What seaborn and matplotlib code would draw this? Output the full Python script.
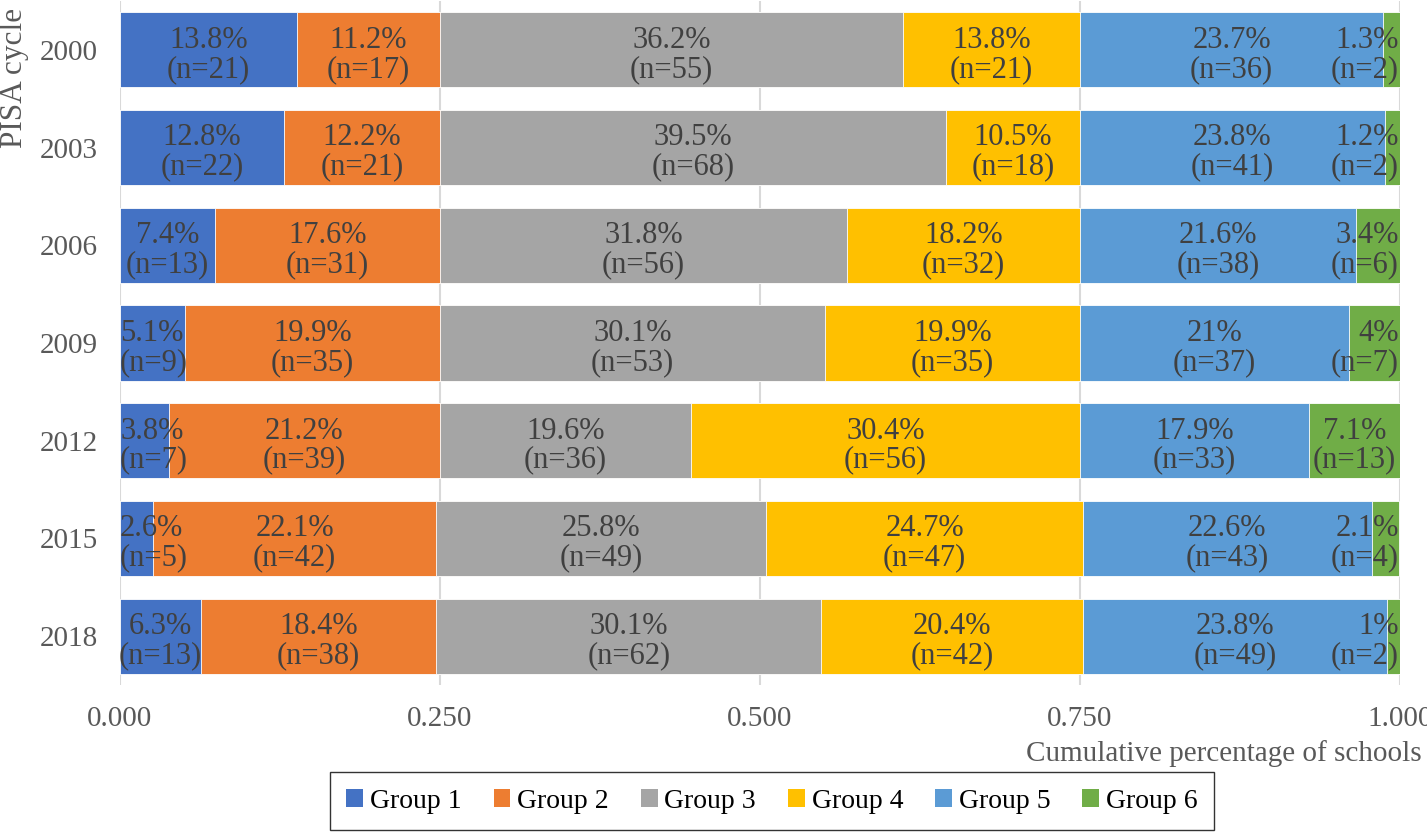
import pandas as pd
import numpy as np
import matplotlib.pyplot as plt
import seaborn as sns
from matplotlib.patches import Patch

# --- datos ---
ciclos = ['2000', '2003', '2006', '2009', '2012', '2015', '2018']
grupos = ['Group 1', 'Group 2', 'Group 3', 'Group 4', 'Group 5', 'Group 6']
colores = ['#4472C4', '#ED7D31', '#A5A5A5', '#FFC000', '#5B9BD5', '#70AD47']

pct_g1 = [13.8, 12.8, 7.4, 5.1, 3.8, 2.6, 6.3]
pct_g2 = [11.2, 12.2, 17.6, 19.9, 21.2, 22.1, 18.4]
pct_g3 = [36.2, 39.5, 31.8, 30.1, 19.6, 25.8, 30.1]
pct_g4 = [13.8, 10.5, 18.2, 19.9, 30.4, 24.7, 20.4]
pct_g5 = [23.7, 23.8, 21.6, 21.0, 17.9, 22.6, 23.8]
pct_g6 = [1.3, 1.2, 3.4, 4.0, 7.1, 2.1, 1.0]

n_g1 = [21, 22, 13, 9, 7, 5, 13]
n_g2 = [17, 21, 31, 35, 39, 42, 38]
n_g3 = [55, 68, 56, 53, 36, 49, 62]
n_g4 = [21, 18, 32, 35, 56, 47, 42]
n_g5 = [36, 41, 38, 37, 33, 43, 49]
n_g6 = [2, 2, 6, 7, 13, 4, 2]

pcts = [pct_g1, pct_g2, pct_g3, pct_g4, pct_g5, pct_g6]
ns = [n_g1, n_g2, n_g3, n_g4, n_g5, n_g6]

filas = []
for g, p_list, n_list in zip(grupos, pcts, ns):
    for c, p, n in zip(ciclos, p_list, n_list):
        filas.append({'ciclo': c, 'grupo': g, 'pct': p, 'n': n})
df = pd.DataFrame(filas)
df['grupo'] = pd.Categorical(df['grupo'], categories=grupos, ordered=True)
df = df.sort_values(['ciclo', 'grupo'])
df['frac'] = df['pct'] / 100
df['fin'] = df.groupby('ciclo')['frac'].cumsum()
df['inicio'] = df['fin'] - df['frac']

# --- gráfico ---
sns.set_theme(style='white')
plt.rcParams['font.family'] = ['Liberation Serif', 'DejaVu Serif']
gris = '#595959'

fig = plt.figure(figsize=(14.27, 8.32), dpi=100)
ax = fig.add_axes([120 / 1427, 1 - 685 / 832, 1280 / 1427, 684 / 832])

# barras apiladas: se dibuja el acumulado de mayor a menor
for g, col in reversed(list(zip(grupos, colores))):
    sub = df[df['grupo'] == g]
    sns.barplot(data=sub, x='fin', y='ciclo', order=ciclos, orient='h',
                color=col, saturation=1, width=0.77, ax=ax,
                edgecolor='white', linewidth=0.6, zorder=3)

# etiquetas (las de segmentos angostos se pegan al borde del área)
pos = {c: i for i, c in enumerate(ciclos)}
for _, r in df.iterrows():
    txt = f"{r['pct']:g}%\n(n={r['n']})"
    xc = r['inicio'] + r['frac'] / 2
    ha = 'center'
    if r['frac'] < 0.06 and r['grupo'] == 'Group 1':
        xc, ha = 0.0, 'left'
    elif r['frac'] < 0.06 and r['grupo'] == 'Group 6':
        xc, ha = 0.999, 'right'
    ax.text(xc, pos[r['ciclo']] + 0.05, txt, ha=ha, va='center', fontsize=22,
            color='#404040', linespacing=1.0, zorder=5)

ax.set_xlim(0, 1.0)
ax.set_ylim(len(ciclos) - 0.5, -0.5)
ax.set_xticks([0, 0.25, 0.5, 0.75, 1.0])
ax.set_xticklabels([f'{v:.3f}' for v in [0, 0.25, 0.5, 0.75, 1.0]])
ax.xaxis.grid(True, color='#D9D9D9', linewidth=1.5, zorder=0)
ax.set_axisbelow(True)
for s in ax.spines.values():
    s.set_visible(False)
ax.tick_params(axis='x', length=0, pad=15, labelsize=21, labelcolor=gris)
ax.tick_params(axis='y', length=0, pad=16, labelsize=21, labelcolor=gris)

ax.set_xlabel('Cumulative percentage of schools', fontsize=21, color=gris, loc='right')
ax.xaxis.set_label_coords(1.017, -0.081)
ax.set_ylabel('PISA cycle', fontsize=22.5, color=gris, loc='top')
ax.yaxis.set_label_coords(-0.071, 0.99)

handles = [Patch(facecolor=c, edgecolor='none') for c in colores]
leg = fig.legend(handles, grupos, loc='center', bbox_to_anchor=(772 / 1427, 1 - 801 / 832),
                 ncol=6, fontsize=20, frameon=True, fancybox=False, labelcolor='black',
                 handlelength=0.6, handleheight=0.6, handletextpad=0.25,
                 columnspacing=1.15, borderpad=0.6)
leg.get_frame().set_edgecolor('black')
leg.get_frame().set_linewidth(1.0)

fig.savefig('out.png', dpi=100)
